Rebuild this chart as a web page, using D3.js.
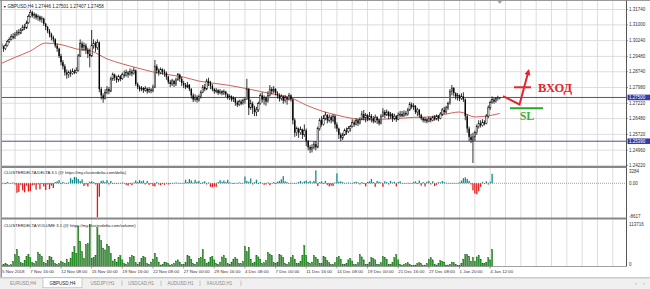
<!DOCTYPE html>
<html><head><meta charset="utf-8">
<script src="https://cdn.jsdelivr.net/npm/d3@7"></script>
<style>body{margin:0;background:#fff}svg{display:block}</style>
</head><body><svg id="c" width="650" height="289"></svg>
<script>
// ---------------- DATA ----------------
const SYMBOL_TITLE = "GBPUSD,H4";
const TITLE_OHLC = ["1.27446", "1.27501", "1.27407", "1.27458"];
const PRICE_TICKS = [1.31740, 1.31000, 1.30240, 1.29480, 1.28740, 1.27980, 1.27220, 1.26480, 1.25720, 1.24960, 1.24220];
const LEVELS = [1.27500, 1.25390];
const TIME_LABELS = ["5 Nov 2018","7 Nov 16:00","12 Nov 08:00","15 Nov 00:00","19 Nov 16:00","22 Nov 08:00","27 Nov 00:00","29 Nov 16:00","4 Dec 08:00","7 Dec 00:00","11 Dec 16:00","14 Dec 08:00","19 Dec 00:00","21 Dec 16:00","27 Dec 08:00","1 Jan 20:00","4 Jan 12:00"];
const TIME_LABEL_STEP = 16; // bars between labels
const FIRST_OPEN = 13000;   // prices in 1/10000
const closes = [
13010,12995,12985,13000,13020,13030,13045,13038,13055,13065,
13060,13075,13090,13085,13110,13140,13160,13145,13150,13135,
13140,13125,13130,13105,13090,13070,13055,13040,13030,13000,
12985,12950,12920,12900,12870,12860,12870,12865,12875,12870,
12880,12950,13010,12990,13000,12980,12960,12950,13000,13010,
12990,13015,12790,12760,12745,12775,12790,12780,12840,12860,
12845,12835,12850,12840,12860,12855,12870,12860,12875,12865,
12880,12815,12800,12790,12795,12785,12792,12780,12788,12782,
12800,12900,12880,12870,12885,12875,12868,12850,12825,12815,
12830,12815,12835,12860,12840,12820,12810,12800,12810,12790,
12760,12740,12750,12738,12755,12775,12800,12790,12830,12820,
12805,12790,12780,12785,12772,12780,12770,12778,12765,12750,
12755,12740,12745,12725,12715,12730,12720,12735,12740,12790,
12700,12720,12700,12680,12690,12720,12760,12740,12750,12730,
12760,12790,12780,12790,12770,12760,12745,12755,12735,12750,
12740,12760,12740,12640,12580,12600,12580,12595,12570,12590,
12540,12510,12500,12510,12525,12510,12600,12640,12620,12650,
12665,12640,12655,12640,12660,12620,12600,12570,12555,12570,
12590,12585,12600,12610,12630,12620,12640,12625,12645,12670,
12650,12665,12645,12660,12650,12635,12655,12640,12625,12660,
12680,12665,12680,12660,12670,12650,12660,12645,12665,12670,
12660,12675,12668,12690,12715,12705,12710,12680,12690,12665,
12650,12640,12645,12635,12650,12640,12655,12645,12660,12650,
12670,12690,12680,12700,12720,12780,12795,12770,12755,12760,
12745,12755,12740,12660,12600,12560,12545,12560,12580,12610,
12625,12615,12630,12625,12660,12700,12725,12740,12730,12745,
12750,12746];
const highs = [
13020,13015,13000,13010,13028,13040,13055,13060,13065,13075,
13080,13085,13100,13105,13120,13150,13172,13168,13160,13155,
13150,13145,13142,13135,13110,13095,13080,13062,13048,13035,
13010,12990,12960,12930,12910,12885,12880,12885,12890,12885,
12895,12960,13030,13020,13015,13010,12990,12985,13075,13030,
13020,13030,13020,12800,12770,12790,12805,12800,12850,12870,
12865,12855,12860,12858,12870,12880,12885,12878,12890,12885,
12895,12885,12822,12808,12805,12800,12805,12798,12800,12795,
12812,12931,12910,12890,12895,12890,12885,12875,12855,12835,
12840,12835,12845,12868,12865,12850,12830,12820,12825,12815,
12795,12770,12765,12760,12765,12785,12810,12815,12840,12845,
12830,12815,12795,12795,12790,12790,12785,12788,12782,12770,
12765,12760,12755,12750,12735,12740,12740,12745,12750,12840,
12795,12740,12730,12710,12705,12730,12770,12775,12760,12755,
12780,12810,12800,12805,12795,12780,12770,12765,12760,12762,
12755,12772,12765,12745,12650,12610,12605,12610,12600,12620,
12600,12545,12520,12525,12540,12540,12610,12650,12660,12665,
12680,12670,12668,12665,12670,12665,12630,12605,12580,12580,
12600,12605,12612,12618,12645,12640,12650,12648,12655,12685,
12690,12675,12670,12680,12670,12660,12668,12660,12648,12670,
12698,12690,12692,12685,12680,12675,12672,12665,12678,12685,
12685,12688,12685,12700,12728,12725,12722,12712,12700,12695,
12672,12655,12655,12650,12658,12655,12662,12665,12668,12665,
12680,12700,12705,12710,12730,12790,12810,12800,12775,12772,
12765,12770,12775,12745,12670,12610,12575,12580,12590,12620,
12640,12640,12645,12640,12670,12712,12735,12755,12750,12752,
12758,12750];
const lows = [
12995,12985,12970,12978,12995,13012,13025,13030,13032,13045,
13050,13055,13070,13075,13080,13105,13135,13135,13130,13125,
13120,13115,13110,13095,13075,13060,13040,13025,13015,12990,
12970,12940,12905,12885,12855,12840,12845,12850,12860,12862,
12865,12875,12945,12975,12975,12960,12940,12895,12945,12985,
12970,12980,12775,12740,12725,12740,12765,12765,12775,12830,
12830,12820,12825,12828,12835,12845,12850,12845,12855,12852,
12860,12805,12790,12778,12780,12772,12778,12768,12772,12770,
12775,12795,12865,12855,12862,12860,12850,12835,12815,12800,
12805,12800,12805,12830,12825,12805,12795,12790,12795,12780,
12745,12728,12730,12725,12730,12745,12770,12780,12785,12805,
12790,12780,12768,12770,12762,12765,12760,12762,12752,12740,
12738,12730,12728,12710,12704,12708,12712,12715,12720,12740,
12665,12690,12670,12660,12660,12680,12715,12725,12715,12710,
12725,12755,12765,12770,12760,12745,12730,12735,12720,12725,
12715,12735,12730,12620,12560,12565,12555,12570,12550,12560,
12515,12495,12482,12485,12500,12495,12505,12590,12610,12615,
12640,12625,12630,12625,12630,12600,12585,12550,12540,12545,
12565,12570,12578,12585,12605,12608,12615,12612,12620,12640,
12640,12630,12635,12640,12630,12625,12628,12622,12615,12620,
12655,12650,12660,12645,12648,12632,12640,12632,12640,12655,
12655,12658,12660,12662,12685,12695,12690,12670,12660,12652,
12640,12630,12628,12625,12630,12630,12635,12638,12640,12635,
12645,12660,12670,12672,12690,12715,12760,12755,12740,12735,
12732,12738,12728,12640,12580,12540,12530,12434,12540,12570,
12600,12605,12610,12615,12620,12650,12690,12720,12720,12725,
12735,12741];
// moving average, sampled every 8 bars (+ last bar)
const maBars = [0,8,16,24,32,40,48,56,64,72,80,88,96,104,112,120,128,136,144,152,160,168,176,184,192,200,208,216,224,232,240,248,256,261];
const maValues = [1.2911,1.2943,1.2974,1.3012,1.3005,1.2984,1.2973,1.2936,1.2912,1.2892,1.2873,1.2860,1.2848,1.2829,1.2818,1.2808,1.2794,1.2779,1.2764,1.2748,1.2713,1.2685,1.2665,1.2649,1.2642,1.2645,1.2649,1.2654,1.2656,1.2668,1.2680,1.2656,1.2663,1.2673];
const DELTA_TICKS = [3284, 0, -8617];
const DELTA_TITLE = "CLUSTERDELTA DELTA 3.1 (@ https://my.clusterdelta.com/delta)";
const delta = [
200,-300,100,-200,300,100,-100,200,-300,-2400,
-2200,-400,-1800,-2300,-600,-2100,-2000,-500,-400,-1600,
-300,-1500,-200,-800,-1700,-300,-1500,-600,-1200,300,
500,800,-200,300,100,-200,200,1300,900,1600,
1500,1100,600,1000,-700,-300,-800,400,500,300,
-300,-8617,-3400,600,700,300,800,-300,600,-200,
100,-200,100,-100,200,-100,-400,-600,-200,-500,
200,700,300,800,500,700,-300,600,-400,-200,
-700,-800,300,-300,-500,-200,-400,100,-300,-200,
100,-100,200,100,-100,100,0,900,300,1100,
700,200,900,400,600,-200,300,500,-300,200,
-900,-1000,-800,-900,300,800,400,700,300,900,
200,100,-200,100,0,200,-100,100,1700,600,
400,1200,-300,300,900,-200,300,100,-400,-300,
200,-500,100,300,-200,400,600,1000,1800,500,
300,-100,100,0,-200,100,300,600,200,500,
700,300,600,200,600,3284,-700,300,500,-200,
600,-400,-800,-600,-700,200,2500,400,500,300,
100,-100,200,100,-100,300,400,200,-300,300,
-200,-800,300,500,1100,300,-900,600,400,200,
-900,500,300,-300,600,200,400,-800,300,500,
100,-100,0,100,0,-100,300,500,-200,700,
-600,300,-800,400,600,-300,500,-700,-400,300,
200,600,300,100,0,100,-100,100,0,100,
200,700,1300,1500,1100,600,-300,-1800,-2600,-2800,
-2000,-900,300,-200,500,-300,400,2400];
const VOLUME_TICKS = [113716, 0];
const VOLUME_TITLE = "CLUSTERDELTA VOLUME 3.1 (@ https://my.clusterdelta.com/volume)";
const volume = [
3000,4000,6000,8000,6000,3000,
5000,14000,32000,46000,27000,11000,
8000,16000,27000,33000,24000,11000,
8000,14000,38000,33000,27000,11000,
8000,16000,27000,24000,16000,8000,
5000,8000,14000,11000,9000,20000,
10000,22000,38000,54000,35000,108000,
68000,40000,22000,60000,62000,113716,
22000,24000,30000,105000,85000,70000,
50000,45000,60000,55000,35000,15000,
20000,12000,25000,30000,18000,8000,
6000,10000,25000,30000,28000,10000,
6000,10000,22000,28000,24000,8000,
6000,12000,20000,36000,25000,12000,
4000,6000,12000,10000,8000,4000,
5000,8000,15000,18000,12000,5000,
6000,10000,30000,28000,20000,8000,
6000,12000,22000,25000,46000,20000,
8000,12000,24000,28000,18000,8000,
6000,12000,26000,30000,22000,8000,
6000,12000,20000,24000,20000,8000,
8000,14000,54000,40000,52000,20000,
8000,12000,30000,26000,20000,8000,
10000,16000,38000,34000,30000,10000,
8000,12000,32000,30000,24000,8000,
6000,10000,24000,30000,20000,8000,
8000,14000,30000,57000,30000,12000,
8000,12000,30000,25000,20000,8000,
8000,27000,25000,16000,10000,5000,
6000,10000,24000,28000,20000,6000,
5000,8000,18000,22000,15000,5000,
6000,10000,32000,26000,18000,6000,
6000,10000,24000,22000,18000,6000,
6000,10000,27000,25000,20000,6000,
6000,10000,24000,32000,18000,6000,
4000,6000,8000,10000,6000,3000,
3000,4000,8000,10000,8000,3000,
4000,8000,20000,24000,18000,6000,
4000,8000,16000,14000,12000,4000,
4000,6000,12000,10000,6000,3000,
2000,
8000,20000,32000,32000,28000,14000,
24000,14000,26000,30000,20000,8000,
8000,12000,24000,18000,46000];
// hand-drawn annotations, in (bar index, price)
const ENTRY_PATH = [[262.7,1.27569],[271.3,1.27160],[276.0,1.28775]];
const ENTRY_MARK = [[268.4,1.27990],[277.3,1.27990]];
const ENTRY_TEXT = {bar:281, price:1.27777, text:"ВХОД"};
const SL_LINE = [[266.3,1.26976],[283.6,1.26976]];
const SL_TEXT = {bar:271.4, price:1.26412, text:"SL"};
const TABS = ["EURUSD,H4","GBPUSD,H4","USDJPY,H1","USDCAD,H1","AUDUSD,H1","XAUUSD,H1"];
const ACTIVE_TAB = 1;

// ---------------- LAYOUT ----------------
const svg = d3.select("#c");
const FONT = "'Liberation Sans', Arial, sans-serif";
const L = 2, R = 626;
const MAIN = {top:1, bot:166}, DEL = {top:168, bot:217.5}, VOL = {top:219.5, bot:266.5};
const x = d3.scaleLinear().domain([0, 1]).range([-0.3, 1.616]);
const y = d3.scaleLinear().domain([1.24220, 1.31740]).range([165.5, 9.5]);
const yD = d3.scaleLinear().domain([-8617, 3284]).range([217.3, 170.3]);
const yV = d3.scaleLinear().domain([0, 113716]).range([266.5, 224.5]);
const P = v => v / 10000;

svg.append("rect").attr("width",650).attr("height",289).attr("fill","#fff");
const defs = svg.append("defs");
[["cm",MAIN],["cd",DEL],["cv",VOL]].forEach(([id,p])=>{
  defs.append("clipPath").attr("id",id).append("rect")
    .attr("x",L).attr("y",p.top).attr("width",R-L).attr("height",p.bot-p.top);
});

// grid
const grid = svg.append("g").attr("stroke","#d4d4d4").attr("stroke-width",0.8);
d3.range(8, 330, 8).filter(i => x(i) < R - 1).forEach(i => {
  grid.append("line").attr("x1",x(i)).attr("x2",x(i)).attr("y1",MAIN.top).attr("y2",VOL.bot);
});
PRICE_TICKS.forEach(t => {
  grid.append("line").attr("x1",L).attr("x2",R).attr("y1",y(t)).attr("y2",y(t));
});

// main panel
const gm = svg.append("g").attr("clip-path","url(#cm)");
LEVELS.forEach(l => {
  gm.append("line").attr("x1",L).attr("x2",R).attr("y1",y(l)).attr("y2",y(l))
    .attr("stroke","#4e4e9e").attr("stroke-width",1);
});
gm.append("path").datum(maBars.map((b,k)=>[b,maValues[k]]))
  .attr("fill","none").attr("stroke","#c8504a").attr("stroke-width",0.9)
  .attr("d", d3.line().x(d=>x(d[0])).y(d=>y(d[1])).curve(d3.curveMonotoneX));
const opens = closes.map((c,i) => i === 0 ? FIRST_OPEN : closes[i-1]);
closes.forEach((c,i) => {
  const o = opens[i], cx = x(i);
  gm.append("line").attr("x1",cx).attr("x2",cx).attr("y1",y(P(highs[i]))).attr("y2",y(P(lows[i])))
    .attr("stroke","#000").attr("stroke-width",0.8);
  const top = y(P(Math.max(o,c))), bot = y(P(Math.min(o,c)));
  const bull = c >= o;
  gm.append("rect").attr("x",cx-0.7).attr("y",top).attr("width",1.4).attr("height",Math.max(0.6,bot-top))
    .attr("fill", bull ? "#fff" : "#000").attr("stroke","#000").attr("stroke-width", bull ? 0.5 : 0);
});
// annotations
const pline = d3.line().x(d=>x(d[0])).y(d=>y(d[1]));
gm.append("path").datum(ENTRY_PATH).attr("d",pline).attr("fill","none")
  .attr("stroke","#e3262b").attr("stroke-width",2).attr("stroke-linejoin","miter");
gm.append("path").datum(ENTRY_MARK).attr("d",pline).attr("stroke","#e3262b").attr("stroke-width",2);
{
  const a = ENTRY_PATH[ENTRY_PATH.length-2], b = ENTRY_PATH[ENTRY_PATH.length-1];
  const ax = x(a[0]), ay = y(a[1]), bx = x(b[0]), by = y(b[1]);
  const len = Math.hypot(bx-ax, by-ay), ux = (bx-ax)/len, uy = (by-ay)/len;
  const tipx = bx + ux*2, tipy = by + uy*2, hl = 6, hw = 3;
  const baseX = tipx - ux*hl, baseY = tipy - uy*hl;
  gm.append("path").attr("fill","#e3262b")
    .attr("d", `M${tipx},${tipy}L${baseX - uy*hw},${baseY + ux*hw}L${baseX + uy*hw},${baseY - ux*hw}Z`);
}
gm.append("text").attr("x",x(ENTRY_TEXT.bar)).attr("y",y(ENTRY_TEXT.price))
  .attr("font-family","'Liberation Serif','Times New Roman',serif").attr("font-weight","bold")
  .attr("font-size",12.5).attr("fill","#e3262b").text(ENTRY_TEXT.text);
gm.append("path").datum(SL_LINE).attr("d",pline).attr("stroke","#2aa52a").attr("stroke-width",2);
gm.append("text").attr("x",x(SL_TEXT.bar)).attr("y",y(SL_TEXT.price))
  .attr("font-family","'Liberation Serif','Times New Roman',serif").attr("font-weight","bold")
  .attr("font-size",12).attr("fill","#3cb03c").text(SL_TEXT.text);

// delta panel
const gd = svg.append("g").attr("clip-path","url(#cd)");
gd.append("line").attr("x1",L).attr("x2",R).attr("y1",yD(0)).attr("y2",yD(0))
  .attr("stroke","#888").attr("stroke-width",0.8).attr("stroke-dasharray","1,1");
delta.forEach((v,i) => {
  const y0 = yD(0), y1 = yD(v);
  gd.append("rect").attr("x",x(i)-0.65).attr("width",1.3)
    .attr("y",Math.min(y0,y1)).attr("height",Math.max(0.5,Math.abs(y1-y0)))
    .attr("fill", v >= 0 ? "#138c8c" : "#e51b1b");
});
// volume panel
const gv = svg.append("g").attr("clip-path","url(#cv)");
volume.forEach((v,i) => {
  gv.append("rect").attr("x",x(i)-0.6).attr("width",1.2)
    .attr("y",yV(v)).attr("height",yV(0)-yV(v)).attr("fill","#2a9a2a")
    .attr("stroke","#145a14").attr("stroke-width",0.35);
});

// frames & separators
svg.append("line").attr("x1",0).attr("x2",650).attr("y1",0.5).attr("y2",0.5).attr("stroke","#9a9a9a");
svg.append("line").attr("x1",1.2).attr("x2",1.2).attr("y1",0).attr("y2",277.5).attr("stroke","#8a8a8a").attr("stroke-width",1.4);
svg.append("line").attr("x1",R+0.5).attr("x2",R+0.5).attr("y1",0.5).attr("y2",VOL.bot).attr("stroke","#555");
svg.append("line").attr("x1",L).attr("x2",R).attr("y1",VOL.bot).attr("y2",VOL.bot).attr("stroke","#888").attr("stroke-width",0.8);
[MAIN.bot, DEL.bot].forEach(s => {
  svg.append("rect").attr("x",L).attr("y",s).attr("width",R-L+0.5).attr("height",2).attr("fill","#878787");
});

// titles
const title = svg.append("text").attr("x",3).attr("y",7.6).attr("font-family",FONT).attr("font-size",4.5).attr("fill","#222");
title.append("tspan").attr("font-size",3.6).text("▼ ");
title.append("tspan").text(SYMBOL_TITLE + "  " + TITLE_OHLC.join(" "));
svg.append("text").attr("x",4).attr("y",174.3).attr("font-family",FONT).attr("font-size",4.2).attr("fill","#222").text(DELTA_TITLE);
svg.append("text").attr("x",4).attr("y",226.6).attr("font-family",FONT).attr("font-size",4.2).attr("fill","#222").text(VOLUME_TITLE);

// right axis labels
const ax = svg.append("g").attr("font-family",FONT).attr("font-size",4.5).attr("fill","#333");
PRICE_TICKS.forEach(t => {
  ax.append("text").attr("x",629).attr("y",y(t)+1.5).text(t.toFixed(5));
  svg.append("line").attr("x1",R).attr("x2",R+2).attr("y1",y(t)).attr("y2",y(t)).attr("stroke","#555").attr("stroke-width",0.6);
});
LEVELS.forEach(l => {
  svg.append("rect").attr("x",627.5).attr("y",y(l)-2.8).attr("width",22.5).attr("height",5.6).attr("fill","#3a3aaa");
  svg.append("text").attr("x",629).attr("y",y(l)+1.5).attr("font-family",FONT).attr("font-size",4.5).attr("fill","#fff").text(l.toFixed(5));
});
const dl = [[DELTA_TICKS[0], yD(DELTA_TICKS[0])+0.8, "3284"],[0, yD(0), "0.00"],[DELTA_TICKS[2], yD(DELTA_TICKS[2])-0.6, String(DELTA_TICKS[2])]];
dl.forEach(d => ax.append("text").attr("x",629).attr("y",d[1]+1.5).text(d[2]));
ax.append("text").attr("x",629).attr("y",yV(VOLUME_TICKS[0])+1.3).text(String(VOLUME_TICKS[0]));
ax.append("text").attr("x",629).attr("y",yV(0)-2.2+1.5).text(String(VOLUME_TICKS[1]));

// time axis
TIME_LABELS.forEach((t,k) => {
  const xi = x(k*TIME_LABEL_STEP);
  ax.append("text").attr("x",Math.max(2,xi)).attr("y",273.3).attr("font-size",4.4).text(t);
  svg.append("line").attr("x1",xi).attr("x2",xi).attr("y1",VOL.bot).attr("y2",VOL.bot+2).attr("stroke","#555").attr("stroke-width",0.6);
});
// chart shift marker
svg.append("path").attr("d",`M${x(261)-2.2},1L${x(261)+2.2},1L${x(261)},4Z`).attr("fill","#a0a0a0");

// tab bar
svg.append("rect").attr("x",0).attr("y",277.5).attr("width",650).attr("height",11.5).attr("fill","#f0f0f0");
svg.append("line").attr("x1",0).attr("x2",650).attr("y1",277.8).attr("y2",277.8).attr("stroke","#a8a8a8").attr("stroke-width",0.8);
const tabCenters = [23, 62.5, 102.5, 141, 180.5, 219.5];
const tabSeps = [43, 82, 122, 161, 200, 241];
svg.append("rect").attr("x",tabSeps[0]).attr("y",277.8).attr("width",tabSeps[1]-tabSeps[0]).attr("height",10)
  .attr("fill","#fff").attr("stroke","#aaa").attr("stroke-width",0.6);
tabSeps.forEach((s,k) => {
  if (k>1) svg.append("line").attr("x1",s).attr("x2",s).attr("y1",280.5).attr("y2",286).attr("stroke","#aaa").attr("stroke-width",0.6);
});
TABS.forEach((t,k) => {
  svg.append("text").attr("x",tabCenters[k]).attr("y",284.8).attr("text-anchor","middle")
    .attr("font-family",FONT).attr("font-size",4.5).attr("fill", k===ACTIVE_TAB ? "#222" : "#888").text(t);
});
svg.append("text").attr("x",635).attr("y",284.6).attr("font-family",FONT).attr("font-size",5).attr("fill","#999").text("‹");
svg.append("text").attr("x",643).attr("y",284.6).attr("font-family",FONT).attr("font-size",5).attr("fill","#999").text("›");
</script></body></html>
